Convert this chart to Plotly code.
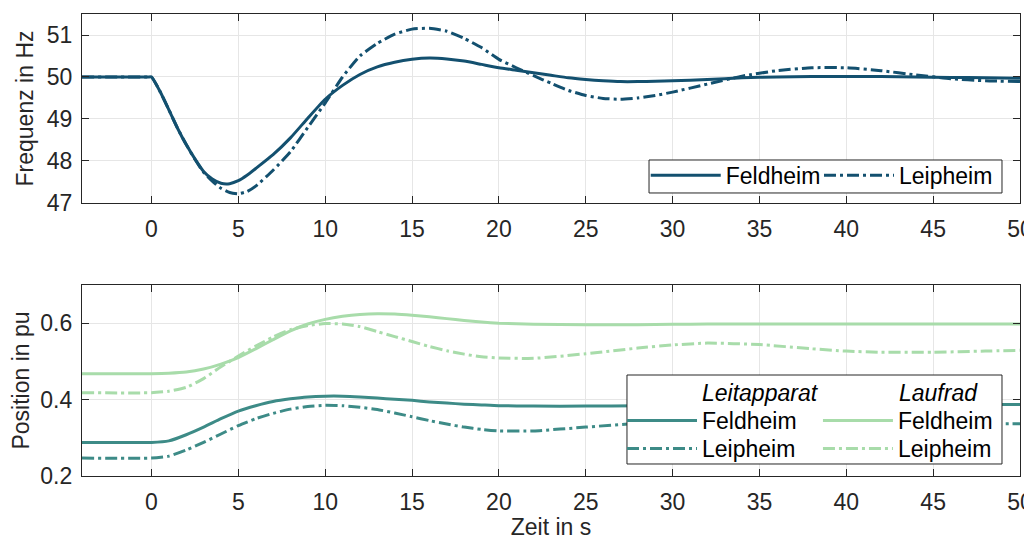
import plotly.graph_objects as go
from plotly.subplots import make_subplots

# ---------------- data ----------------
t_freq = [-4, -0.2, 0, 0.5, 1, 1.5, 2, 2.5, 3, 3.5, 4, 4.5, 5, 5.5, 6, 7, 8, 9, 10, 11, 12, 13,
          14, 15, 16, 17, 18, 19, 20, 21, 22, 23, 24, 25, 26, 27, 28, 29, 30, 32, 34, 36, 38,
          40, 42, 44, 46, 48, 50]
freq_feldheim = [50, 50, 50, 49.65, 49.22, 48.78, 48.39, 48.05, 47.75, 47.57, 47.47, 47.46,
                 47.53, 47.66, 47.82, 48.15, 48.55, 49.02, 49.47, 49.8, 50.06, 50.24,
                 50.35, 50.42, 50.45, 50.43, 50.38, 50.3, 50.22, 50.16, 50.1, 50.04, 49.98,
                 49.94, 49.91, 49.89, 49.89, 49.9, 49.91, 49.94, 49.98, 50.0, 50.01,
                 50.01, 50.01, 50.0, 49.99, 49.98, 49.97]
freq_leipheim = [50, 50, 50, 49.65, 49.22, 48.78, 48.39, 48.04, 47.73, 47.52, 47.35, 47.25,
                 47.22, 47.27, 47.4, 47.78, 48.22, 48.8, 49.38, 50.0, 50.5, 50.8,
                 51.02, 51.14, 51.16, 51.09, 50.92, 50.7, 50.42, 50.22, 50.03, 49.85, 49.68,
                 49.56, 49.49, 49.47, 49.5, 49.56, 49.64, 49.83, 50.02, 50.15, 50.22,
                 50.22, 50.15, 50.05, 49.96, 49.91, 49.89]

t_pos = [-4, 0, 1, 2, 3, 4, 5, 6, 7, 8, 9, 10, 11, 12, 13, 14, 15, 16, 17, 18, 19, 20,
         22, 25, 28, 30, 32, 35, 38, 40, 42, 45, 48, 50]
leit_feldheim = [0.288, 0.288, 0.292, 0.308, 0.328, 0.35, 0.37, 0.384, 0.395, 0.402, 0.407,
                 0.409, 0.409, 0.407, 0.404, 0.401, 0.398, 0.394, 0.391, 0.388, 0.386, 0.384,
                 0.383, 0.383, 0.384, 0.385, 0.386, 0.387, 0.387, 0.387, 0.387, 0.387, 0.387, 0.387]
leit_leipheim = [0.247, 0.247, 0.252, 0.268, 0.288, 0.31, 0.332, 0.35, 0.364, 0.375, 0.382,
                 0.385, 0.384, 0.38, 0.374, 0.365, 0.355, 0.345, 0.336, 0.328, 0.322, 0.318,
                 0.318, 0.328, 0.338, 0.343, 0.346, 0.346, 0.343, 0.34, 0.337, 0.335, 0.336, 0.337]
lauf_feldheim = [0.468, 0.468, 0.469, 0.472, 0.48, 0.493, 0.51, 0.533, 0.557, 0.58, 0.598,
                 0.61, 0.618, 0.623, 0.625, 0.624, 0.621, 0.617, 0.612, 0.607, 0.603, 0.6,
                 0.597, 0.596, 0.596, 0.597, 0.598, 0.598, 0.598, 0.598, 0.598, 0.598, 0.598, 0.598]
lauf_leipheim = [0.418, 0.418, 0.422, 0.432, 0.455, 0.486, 0.514, 0.54, 0.564, 0.583, 0.594,
                 0.599, 0.598, 0.591, 0.578, 0.565, 0.552, 0.539, 0.528, 0.519, 0.512, 0.509,
                 0.508, 0.52, 0.535, 0.543, 0.548, 0.544, 0.533, 0.527, 0.524, 0.524, 0.527, 0.529]

x_ticks = [0, 5, 10, 15, 20, 25, 30, 35, 40, 45, 50]
freq_ticks = [47, 48, 49, 50, 51]
pos_ticks = [0.2, 0.4, 0.6]
legend_headers = ["Leitapparat", "Laufrad"]

# ---------------- style ----------------
C_BLUE = "#13506f"
C_TEAL = "#3d8b87"
C_LIGHT = "#a8dcaa"
TXT = "#262626"
FONT = "Arial, Liberation Sans, sans-serif"
FS = 23
DASHDOT = "12px,4px,3px,4px"
SM = 0.5
IW = 70

fig = make_subplots(rows=2, cols=1, shared_xaxes=False, vertical_spacing=0.0)

fig.add_trace(go.Scatter(x=t_freq, y=freq_feldheim, mode="lines", name="Feldheim",
                         line=dict(color=C_BLUE, width=3, shape="spline", smoothing=SM),
                         legend="legend", showlegend=True), row=1, col=1)
fig.add_trace(go.Scatter(x=t_freq, y=freq_leipheim, mode="lines", name="Leipheim",
                         line=dict(color=C_BLUE, width=3, dash=DASHDOT, shape="spline", smoothing=SM),
                         legend="legend6"), row=1, col=1)

fig.add_trace(go.Scatter(x=t_pos, y=leit_feldheim, mode="lines", name="Feldheim",
                         line=dict(color=C_TEAL, width=3, shape="spline", smoothing=SM),
                         legend="legend2"), row=2, col=1)
fig.add_trace(go.Scatter(x=t_pos, y=leit_leipheim, mode="lines", name="Leipheim",
                         line=dict(color=C_TEAL, width=3, dash=DASHDOT, shape="spline", smoothing=SM),
                         legend="legend3"), row=2, col=1)
fig.add_trace(go.Scatter(x=t_pos, y=lauf_feldheim, mode="lines", name="Feldheim",
                         line=dict(color=C_LIGHT, width=3, shape="spline", smoothing=SM),
                         legend="legend4"), row=2, col=1)
fig.add_trace(go.Scatter(x=t_pos, y=lauf_leipheim, mode="lines", name="Leipheim",
                         line=dict(color=C_LIGHT, width=3, dash=DASHDOT, shape="spline", smoothing=SM),
                         legend="legend5"), row=2, col=1)

axis_common = dict(showline=True, linecolor=TXT, linewidth=1.3, mirror="ticks",
                   ticks="inside", ticklen=7, tickwidth=1.3, tickcolor=TXT,
                   showgrid=True, gridcolor="#e6e6e6", gridwidth=1, zeroline=False,
                   automargin=False,
                   tickfont=dict(family=FONT, size=FS, color=TXT))

fig.update_xaxes(range=[-4, 50], tickvals=x_ticks, ticklabelstandoff=5,
                 ticklabeloverflow="allow", **axis_common)
fig.update_xaxes(row=2, col=1, title=dict(text="Zeit in s", font=dict(family=FONT, size=FS, color=TXT),
                                          standoff=4))
fig.update_yaxes(row=1, col=1, range=[47, 51.5], tickvals=freq_ticks, ticklabelstandoff=4,
                 title=dict(text="Frequenz in Hz", font=dict(family=FONT, size=FS, color=TXT), standoff=6),
                 **axis_common)
fig.update_yaxes(row=2, col=1, range=[0.2, 0.7], tickvals=pos_ticks, tickformat=".1f",
                 ticklabelstandoff=4,
                 title=dict(text="Position in pu", font=dict(family=FONT, size=FS, color=TXT), standoff=6),
                 **axis_common)

leg_font = dict(family=FONT, size=FS, color="black")
clear = "rgba(0,0,0,0)"


def single_legend(x, y):
    return dict(x=x, xanchor="left", y=y, yanchor="middle", bgcolor=clear, borderwidth=0,
                font=leg_font, itemwidth=IW)


# page body adds an 8px offset, so the figure is 8px smaller and margins shifted
fig.update_layout(
    width=1024, height=532,
    margin=dict(l=74, r=12, t=6, b=64),
    paper_bgcolor="white", plot_bgcolor="white",
    font=dict(family=FONT, size=FS, color=TXT),
    showlegend=True,
    yaxis=dict(domain=[0.591, 1.0]),
    yaxis2=dict(domain=[0.0, 0.4134]),
    legend=single_legend(0.601, 0.651),
    legend6=single_legend(0.7857, 0.651),
    legend2=single_legend(0.5757, 0.1201),
    legend3=single_legend(0.5757, 0.0595),
    legend4=single_legend(0.7846, 0.1201),
    legend5=single_legend(0.7846, 0.0595),
    shapes=[
        dict(type="rect", xref="paper", yref="paper", x0=0.6045, x1=0.9808, y0=0.6126, y1=0.684,
             fillcolor="white", line=dict(color=TXT, width=1), layer="above"),
        dict(type="rect", xref="paper", yref="paper", x0=0.581, x1=0.9808, y0=0.026, y1=0.2186,
             fillcolor="white", line=dict(color=TXT, width=1), layer="above"),
    ],
    annotations=[
        dict(text="<i>" + legend_headers[0] + "</i>", xref="paper", yref="paper", x=0.6588, y=0.1797,
             xanchor="left", yanchor="middle", showarrow=False, font=leg_font),
        dict(text="<i>" + legend_headers[1] + "</i>", xref="paper", yref="paper", x=0.8689, y=0.1797,
             xanchor="left", yanchor="middle", showarrow=False, font=leg_font),
    ],
)

fig.write_html("out.html")
